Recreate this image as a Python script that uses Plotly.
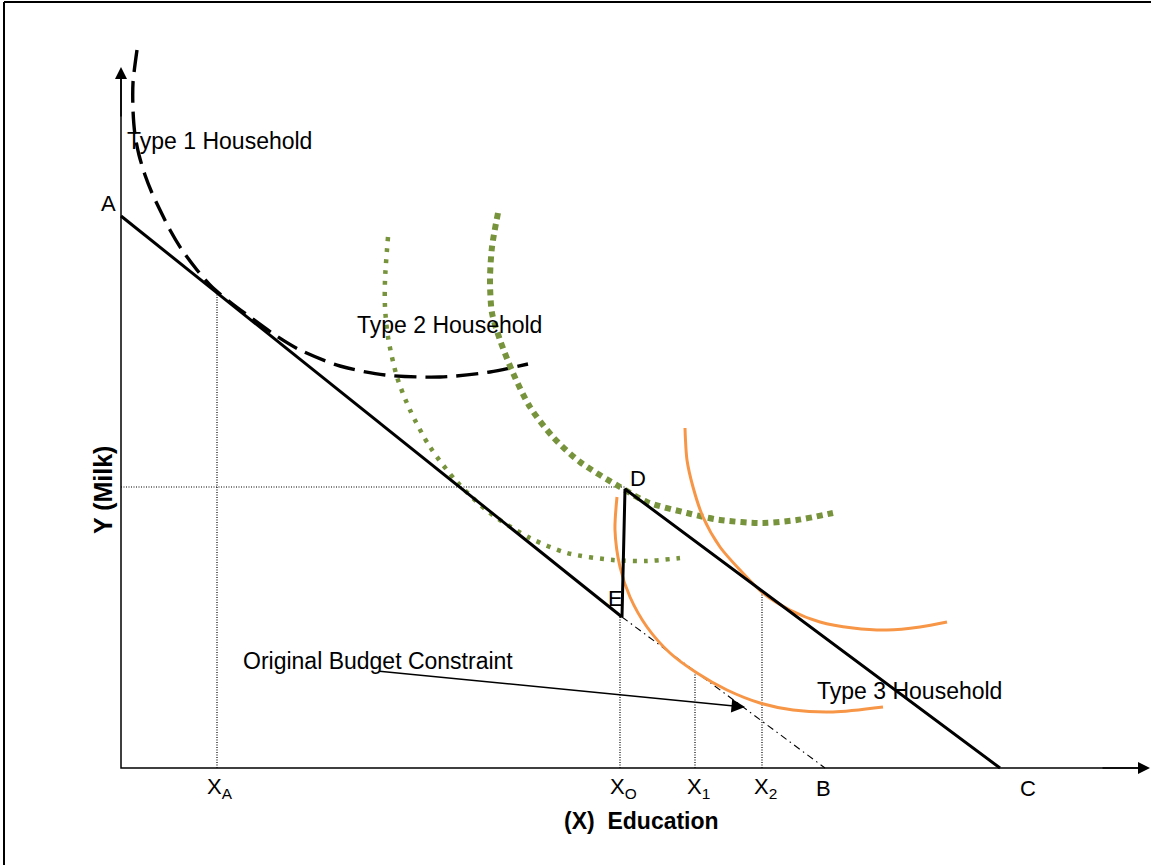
import plotly.graph_objects as go

# units: education (x) and milk (y), origin at the axes corner
# budget lines
A = (0, 552)
E = (501, 151)
B = (704, 0)
D = (504, 279)
C = (879, 0)

# drop lines to the x axis
drop_x = [96, 499, 574, 641]
drop_top = [475, 151, 96, 177]
drop_labels = ["X<sub>A</sub>", "X<sub>O</sub>", "X<sub>1</sub>", "X<sub>2</sub>"]
end_labels = ["B", "C"]
end_x = [702, 907]

# indifference curves
t1_x = [16, 12, 12, 14, 18, 24, 31, 39, 49, 61, 76, 91, 109, 129, 154, 179, 219, 264, 319, 369, 407]
t1_y = [718, 685, 658, 633, 613, 593, 575, 558, 538, 518, 498, 481, 466, 451, 433, 418, 402, 393, 391, 396, 404]

t2a_x = [267, 264, 264, 267, 276, 289, 309, 336, 369, 409, 446, 492, 526, 559]
t2a_y = [531, 488, 461, 431, 391, 358, 321, 286, 255, 230, 215, 208, 207, 210]

t2b_x = [377, 371, 369, 371, 379, 392, 409, 432, 459, 499, 526, 566, 599, 642, 676, 712]
t2b_y = [555, 521, 488, 455, 428, 395, 361, 331, 306, 281, 266, 255, 248, 245, 248, 255]

t3a_x = [496, 494, 499, 509, 526, 549, 576, 606, 639, 672, 712, 762]
t3a_y = [271, 238, 201, 171, 141, 115, 95, 78, 65, 58, 56, 61]

t3b_x = [564, 566, 572, 582, 599, 619, 642, 669, 699, 732, 766, 799, 826]
t3b_y = [340, 308, 281, 251, 221, 198, 175, 158, 146, 140, 138, 141, 146]

GREEN = "#77933C"
ORANGE = "#F79646"
FONT = "Liberation Sans, Arial, sans-serif"

fig = go.Figure()

# frame
fig.add_shape(type="line", x0=-117, y0=766, x1=1040, y1=766, line=dict(color="black", width=2))
fig.add_shape(type="line", x0=-117, y0=766, x1=-117, y1=-110, line=dict(color="black", width=2))

# dotted guide lines
for x, top in zip(drop_x, drop_top):
    fig.add_trace(go.Scatter(x=[x, x], y=[0, top], mode="lines",
                             line=dict(color="black", width=1.2, dash="1px,1.5px")))
fig.add_trace(go.Scatter(x=[0, D[0]], y=[D[1] + 2, D[1] + 2], mode="lines",
                         line=dict(color="black", width=1.2, dash="1px,1.5px")))

# original budget constraint continued
fig.add_trace(go.Scatter(x=[E[0], B[0]], y=[E[1], B[1]], mode="lines",
                         line=dict(color="black", width=1.1, dash="7px,4px,1.5px,4px")))

# indifference curves
sm = 0.8
fig.add_trace(go.Scatter(x=t1_x, y=t1_y, mode="lines",
                         line=dict(color="black", width=3.4, dash="22px,9px", shape="spline", smoothing=sm)))
fig.add_trace(go.Scatter(x=t2a_x, y=t2a_y, mode="lines",
                         line=dict(color=GREEN, width=4.5, dash="4px,7px", shape="spline", smoothing=sm)))
fig.add_trace(go.Scatter(x=t2b_x, y=t2b_y, mode="lines",
                         line=dict(color=GREEN, width=6, dash="6px,5px", shape="spline", smoothing=sm)))
fig.add_trace(go.Scatter(x=t3a_x, y=t3a_y, mode="lines",
                         line=dict(color=ORANGE, width=3, shape="spline", smoothing=sm)))
fig.add_trace(go.Scatter(x=t3b_x, y=t3b_y, mode="lines",
                         line=dict(color=ORANGE, width=3, shape="spline", smoothing=sm)))

# budget lines
fig.add_trace(go.Scatter(x=[A[0], E[0]], y=[A[1], E[1]], mode="lines",
                         line=dict(color="black", width=3)))
fig.add_trace(go.Scatter(x=[E[0], D[0], C[0]], y=[E[1], D[1], C[1]], mode="lines",
                         line=dict(color="black", width=3)))

# axes with arrows
fig.add_trace(go.Scatter(x=[0, 0, 1020], y=[690, 0, 0], mode="lines",
                         line=dict(color="black", width=1.5)))
fig.add_annotation(x=0, y=701, ax=0, ay=650, xref="x", yref="y", axref="x", ayref="y",
                   text="", showarrow=True, arrowhead=2, arrowsize=1.6, arrowwidth=1.5, arrowcolor="black")
fig.add_annotation(x=1029, y=0, ax=980, ay=0, xref="x", yref="y", axref="x", ayref="y",
                   text="", showarrow=True, arrowhead=2, arrowsize=1.6, arrowwidth=1.5, arrowcolor="black")

# pointer to the original budget constraint
fig.add_annotation(x=624, y=61, ax=257, ay=97, xref="x", yref="y", axref="x", ayref="y",
                   text="", showarrow=True, arrowhead=2, arrowsize=1.8, arrowwidth=1.5, arrowcolor="black")

txt = dict(family=FONT, size=23, color="black")
lett = dict(family=FONT, size=22, color="black")
fig.add_annotation(x=4, y=627, text="Type 1 Household", showarrow=False, xanchor="left", font=txt)
fig.add_annotation(x=234, y=443, text="Type 2 Household", showarrow=False, xanchor="left", font=txt)
fig.add_annotation(x=694, y=77, text="Type 3 Household", showarrow=False, xanchor="left", font=txt)
fig.add_annotation(x=120, y=107, text="Original Budget Constraint", showarrow=False, xanchor="left", font=txt)
fig.add_annotation(x=-13, y=565, text="A", showarrow=False, font=lett)
fig.add_annotation(x=517, y=290, text="D", showarrow=False, font=lett)
fig.add_annotation(x=494, y=170, text="E", showarrow=False, font=lett)

for x, lab in zip(drop_x, drop_labels):
    fig.add_annotation(x=x + 3, y=-20, text=lab, showarrow=False, font=lett)
for x, lab in zip(end_x, end_labels):
    fig.add_annotation(x=x, y=-20, text=lab, showarrow=False, font=lett)

fig.add_annotation(x=520, y=-53, text="<b>(X)  Education</b>", showarrow=False, font=txt)
fig.add_annotation(x=-18, y=278, text="<b>Y (Milk)</b>", showarrow=False, textangle=-90,
                   font=dict(family=FONT, size=25, color="black"))

fig.update_xaxes(range=[-121, 1030], visible=False)
fig.update_yaxes(range=[-97, 768], visible=False)
fig.update_layout(width=1151, height=865, margin=dict(l=0, r=0, t=0, b=0),
                  showlegend=False, plot_bgcolor="white", paper_bgcolor="white")

fig.write_html("out.html", config={"displayModeBar": False},
               post_script="document.body.style.margin='0';")
